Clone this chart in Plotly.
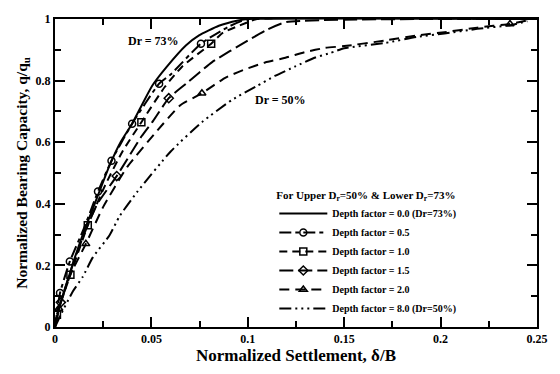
import plotly.graph_objects as go

# Normalized settlement (delta/B) and normalized bearing capacity (q/qu) per depth factor
x_df00 = [0, 0.002, 0.005, 0.01, 0.015, 0.02, 0.028, 0.034, 0.04, 0.045, 0.0505, 0.0577, 0.068, 0.0747, 0.085, 0.095, 0.1, 0.25]
y_df00 = [0, 0.06, 0.12, 0.22, 0.31, 0.39, 0.52, 0.60, 0.66, 0.72, 0.784, 0.843, 0.915, 0.947, 0.978, 0.995, 1.0, 1.0]

x_df05 = [0, 0.0026, 0.0077, 0.015, 0.0223, 0.0293, 0.040, 0.054, 0.060, 0.0757, 0.090, 0.100, 0.25]
y_df05 = [0, 0.11, 0.213, 0.32, 0.44, 0.54, 0.66, 0.79, 0.82, 0.92, 0.975, 1.0, 1.0]

x_df10 = [0, 0.001, 0.008, 0.017, 0.026, 0.035, 0.0448, 0.057, 0.066, 0.081, 0.087, 0.099, 0.105, 0.25]
y_df10 = [0, 0.04, 0.17, 0.33, 0.46, 0.57, 0.665, 0.78, 0.846, 0.92, 0.955, 0.987, 1.0, 1.0]

x_df15 = [0, 0.003, 0.008, 0.015, 0.022, 0.032, 0.045, 0.051, 0.059, 0.068, 0.0815, 0.100, 0.110, 0.120, 0.25]
y_df15 = [0, 0.08, 0.18, 0.30, 0.40, 0.49, 0.62, 0.67, 0.743, 0.79, 0.86, 0.93, 0.965, 0.99, 1.0]

x_df20 = [0, 0.002, 0.008, 0.016, 0.025, 0.0375, 0.052, 0.065, 0.0762, 0.0885, 0.0988, 0.109, 0.1195,
          0.130, 0.140, 0.150, 0.171, 0.188, 0.202, 0.219, 0.236, 0.245]
y_df20 = [0, 0.06, 0.17, 0.27, 0.39, 0.52, 0.63, 0.72, 0.759, 0.81, 0.837, 0.859, 0.874,
          0.893, 0.906, 0.912, 0.930, 0.947, 0.957, 0.972, 0.984, 0.995]

x_df80 = [0, 0.003, 0.0093, 0.0144, 0.0196, 0.0283, 0.0335, 0.0428, 0.060, 0.0762, 0.0917, 0.104, 0.114,
          0.1246, 0.135, 0.143, 0.150, 0.171, 0.188, 0.202, 0.219, 0.236, 0.245]
y_df80 = [0, 0.04, 0.116, 0.163, 0.226, 0.298, 0.36, 0.44, 0.57, 0.665, 0.737, 0.78, 0.815,
          0.846, 0.875, 0.89, 0.905, 0.922, 0.942, 0.953, 0.968, 0.98, 0.993]

# Measured points marked with symbols
mx_df05 = [0.0026, 0.0077, 0.0223, 0.0293, 0.040, 0.054, 0.0757]
my_df05 = [0.11, 0.213, 0.44, 0.54, 0.66, 0.79, 0.92]
mx_df10 = [0.001, 0.008, 0.017, 0.0448, 0.081]
my_df10 = [0.04, 0.17, 0.33, 0.665, 0.92]
mx_df15 = [0.003, 0.032, 0.059]
my_df15 = [0.08, 0.49, 0.743]
mx_df20 = [0.002, 0.016, 0.0762, 0.236]
my_df20 = [0.06, 0.27, 0.759, 0.984]

series_names = [
    "Depth factor = 0.0 (Dr=73%)",
    "Depth factor = 0.5",
    "Depth factor = 1.0",
    "Depth factor = 1.5",
    "Depth factor = 2.0",
    "Depth factor = 8.0 (Dr=50%)",
]

x_ticks = [0, 0.05, 0.1, 0.15, 0.2, 0.25]
x_tick_labels = ["0", "0.05", "0.1", "0.15", "0.2", "0.25"]
y_ticks = [0, 0.2, 0.4, 0.6, 0.8, 1.0]
y_tick_labels = ["0", "0.2", "0.4", "0.6", "0.8", "1"]

FONT = "Liberation Serif"

styles = [
    dict(dash="solid", symbol=None),
    dict(dash="12px,4px,4px,4px", symbol="circle-open"),
    dict(dash="8px,5px", symbol="square-open"),
    dict(dash="14px,5px", symbol="diamond-open"),
    dict(dash="10px,6px", symbol="triangle-up-open"),
    dict(dash="12px,4px,2px,4px,2px,4px,2px,4px", symbol=None),
]

curves = [
    (x_df00, y_df00, None, None),
    (x_df05, y_df05, mx_df05, my_df05),
    (x_df10, y_df10, mx_df10, my_df10),
    (x_df15, y_df15, mx_df15, my_df15),
    (x_df20, y_df20, mx_df20, my_df20),
    (x_df80, y_df80, None, None),
]

fig = go.Figure()
for i, ((xs, ys, mxs, mys), name, st) in enumerate(zip(curves, series_names, styles)):
    line = dict(color="black", width=2, dash=st["dash"], shape="spline", smoothing=0.5)
    marker = None
    if st["symbol"]:
        marker = dict(symbol=st["symbol"], size=7, color="black",
                      line=dict(color="black", width=1.5))
    group = f"g{i}"
    # fitted curve
    fig.add_trace(go.Scatter(x=xs, y=ys, mode="lines", line=line,
                             legendgroup=group, showlegend=False, hoverinfo="skip"))
    # measured points
    if mxs is not None:
        fig.add_trace(go.Scatter(x=mxs, y=mys, mode="markers", marker=marker,
                                 legendgroup=group, showlegend=False))
    # legend entry
    fig.add_trace(go.Scatter(x=[None], y=[None], name=name,
                             mode="lines+markers" if marker else "lines",
                             line=line, marker=marker, legendgroup=group))

axis_common = dict(
    showline=True, linecolor="black", linewidth=2, mirror="allticks",
    ticks="inside", ticklen=10, tickwidth=1.5, tickcolor="black",
    showgrid=False, zeroline=False,
    tickfont=dict(family=FONT, size=12, color="black", weight="bold"),
)

fig.update_xaxes(
    range=[0, 0.25], tickvals=x_ticks, ticktext=x_tick_labels,
    minor=dict(ticks="inside", dtick=0.025, ticklen=6, tickcolor="black", tickwidth=1.5),
    title=dict(text="Normalized Settlement, δ/B",
               font=dict(family=FONT, size=17, color="black", weight="bold"), standoff=4),
    **axis_common,
)
fig.update_yaxes(
    range=[0, 1], tickvals=y_ticks, ticktext=y_tick_labels,
    minor=dict(ticks="inside", dtick=0.1, ticklen=6, tickcolor="black", tickwidth=1.5),
    title=dict(text="Normalized Bearing Capacity, q/q<sub>u</sub>",
               font=dict(family=FONT, size=15.5, color="black", weight="bold"), standoff=4),
    **axis_common,
)

fig.add_annotation(x=0.051, y=0.93, text="Dr = 73%", showarrow=False,
                   font=dict(family=FONT, size=12, color="black", weight="bold"))
fig.add_annotation(x=0.117, y=0.737, text="Dr = 50%", showarrow=False,
                   font=dict(family=FONT, size=12, color="black", weight="bold"))

fig.update_layout(
    width=560, height=374,
    margin=dict(l=55, r=20, t=13, b=42),
    plot_bgcolor="white", paper_bgcolor="white",
    font=dict(family=FONT, color="black"),
    legend=dict(
        x=0.455, y=0.462, xanchor="left", yanchor="top",
        bgcolor="rgba(0,0,0,0)", borderwidth=0,
        itemwidth=48, tracegroupgap=0,
        title=dict(text="For Upper D<sub>r</sub>=50% & Lower D<sub>r</sub>=73%",
                   font=dict(family=FONT, size=11, color="black", weight="bold")),
        font=dict(family=FONT, size=10, color="black", weight="bold"),
    ),
)

fig.write_html("out.html")
